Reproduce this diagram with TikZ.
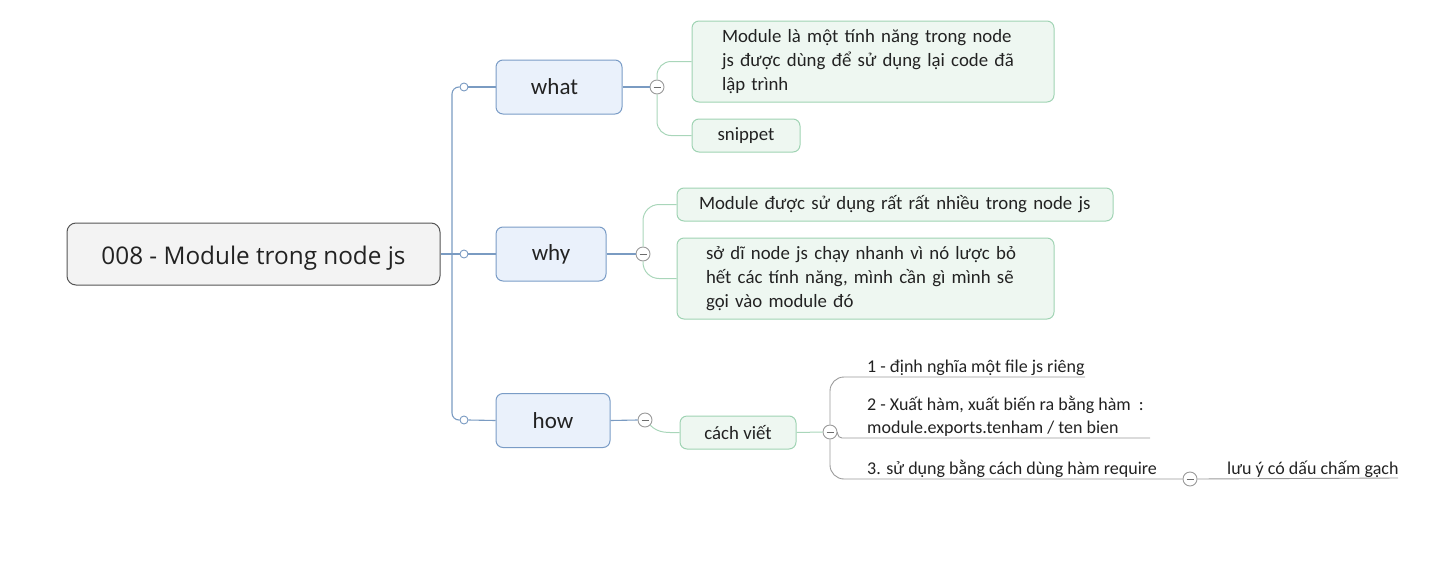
\documentclass[tikz,border=0pt]{standalone}
\usepackage{fontspec}
\setmainfont{Carlito}
\newfontfamily\rootfont{Open Sans}
\definecolor{rootbd}{HTML}{555555}
\definecolor{rootfill}{HTML}{F3F3F3}
\definecolor{bluebd}{HTML}{7A9CC6}
\definecolor{bluefill}{HTML}{EAF1FB}
\definecolor{trunkc}{HTML}{7A9BC2}
\definecolor{greenbd}{HTML}{9FD3B3}
\definecolor{greenfill}{HTML}{EEF7F1}
\definecolor{greenc}{HTML}{A9D6BA}
\definecolor{grayc}{HTML}{9A9A9A}
\definecolor{textc}{HTML}{222222}
\begin{document}
\begin{tikzpicture}[x=1pt,y=-1pt,
  rootbox/.style={draw=rootbd, fill=rootfill, rounded corners=9pt, line width=1pt,
    minimum width=373pt, minimum height=62pt, inner sep=0pt, text=textc,
    text height=20pt, text depth=0pt,
    font=\rootfont\fontsize{24.3}{28}\selectfont},
  bluebox/.style={draw=bluebd, fill=bluefill, rounded corners=7pt, line width=1pt,
    minimum height=54pt, inner sep=0pt, text=textc, font=\fontsize{23}{27}\selectfont},
  greenbox/.style={draw=greenbd, fill=greenfill, rounded corners=7pt, line width=1pt,
    inner ysep=0pt, text=textc, font=\fontsize{18.8}{24}\selectfont},
  undertext/.style={inner sep=0pt, text=textc, font=\fontsize{18}{22.5}\selectfont, align=left},
  trunk/.style={draw=trunkc, line width=1.1pt},
  gconn/.style={draw=greenc, line width=1pt},
  grconn/.style={draw=grayc, line width=0.9pt},
  smalldot/.style={circle, draw=trunkc, fill=white, line width=0.9pt, minimum size=8pt, inner sep=0pt},
  collapse/.style={circle, draw=grayc, fill=white, line width=0.9pt, minimum size=14pt, inner sep=0pt,
    path picture={\draw[grayc!70!black, line width=0.9pt] ([xshift=-3.5pt]path picture bounding box.center) -- ([xshift=3.5pt]path picture bounding box.center);}},
]
\useasboundingbox (0,0) rectangle (1442,562);

% root
\node[rootbox] (root) at (253.5,254) {008 - Module trong node js};

% level 1 boxes
\node[bluebox, minimum width=126pt] (what) at (559,87) {\hspace*{-9pt}what};
\node[bluebox, minimum width=110pt] (why) at (551,254) {why};
\node[bluebox, minimum width=114pt] (how) at (553,420.5) {how};

% trunk dots
\node[smalldot] (whatdot) at (464,87) {};
\node[smalldot] (whydot) at (464,254) {};
\node[smalldot] (howdot) at (464,420) {};
\coordinate (ttop) at (452,87);
\coordinate (tbot) at (452,420);

\draw[trunk, rounded corners=7pt] (whatdot.west) -- (ttop) -- (tbot) -- (howdot.west);
\draw[trunk] (root.east) -- (whydot.west);
\draw[trunk] (whatdot.east) -- (what.west);
\draw[trunk] (whydot.east) -- (why.west);
\draw[trunk] (howdot.east) -- (how.west);

% collapse dots level 1
\node[collapse] (wdot) at (657,87) {};
\node[collapse] (ydot) at (643,254) {};
\node[collapse] (hdot) at (645,420) {};
\draw[trunk] (what.east) -- (wdot.west);
\draw[trunk] (why.east) -- (ydot.west);
\draw[trunk] (how.east) -- (hdot.west);

% what children
\node[greenbox, minimum height=81pt, text width=302pt, inner xsep=30pt, align=left] (w1) at (873,61.5)
  {Module là một tính năng trong node\\ js được dùng để sử dụng lại code đã\\ lập trình};
\node[greenbox, minimum height=33pt, minimum width=108pt, inner xsep=0pt] (w2) at (746,135.5) {snippet};
\draw[gconn, rounded corners=14pt] (wdot.north) |- (w1.west);
\draw[gconn, rounded corners=14pt] (wdot.south) |- (w2.west);

% why children
\node[greenbox, minimum height=33pt, text width=392pt, inner xsep=22pt, align=left] (y1) at (895,204.5)
  {Module được sử dụng rất rất nhiều trong node js};
\node[greenbox, minimum height=81pt, text width=319pt, inner xsep=29pt, align=left] (y2) at (865.5,278.5)
  {sở dĩ node js chạy nhanh vì nó lược bỏ\\ hết các tính năng, mình cần gì mình sẽ\\ gọi vào module đó};
\draw[gconn, rounded corners=16pt] (ydot.north) |- (y1.west);
\draw[gconn, rounded corners=16pt] (ydot.south) |- (y2.west);

% how children
\node[greenbox, minimum height=33pt, minimum width=116pt, inner xsep=0pt] (cv) at (738,432.5) {cách viết};
\draw[gconn] (hdot.south east) to[out=-45,in=180] (cv.west);

\node[collapse] (cdot) at (830,432) {};
\draw[gconn] (cv.east) -- (cdot.west);

% level 3 items (text above underline)
\coordinate (u1) at (1085,377);
\coordinate (u2) at (1150,438);
\node[undertext, anchor=base west] (i1) at (867,372.5) {1 - định nghĩa một file js riêng};
\node[undertext, anchor=base west] (i2a) at (867,410.5) {2 - Xuất hàm, xuất biến ra bằng hàm~~:};
\node[undertext, anchor=base west] (i2b) at (867,433) {module.exports.tenham / ten bien};
\node[undertext, anchor=base west] (i3) at (867,474) {3. sử dụng bằng cách dùng hàm require};

\node[collapse] (rdot) at (1190,479) {};
\draw[grconn, rounded corners=14pt] (cdot.north) |- (u1);
\draw[grconn, rounded corners=4pt] (cdot.east) -- (838,438) -- (u2);
\draw[grconn, rounded corners=14pt] (cdot.south) |- (rdot.west);

\coordinate (u4) at (1398,478);
\node[undertext, anchor=base west] (i4) at (1227,474) {lưu ý có dấu chấm gạch};
\draw[grconn] (rdot.east) -- (u4);
\end{tikzpicture}
\end{document}
